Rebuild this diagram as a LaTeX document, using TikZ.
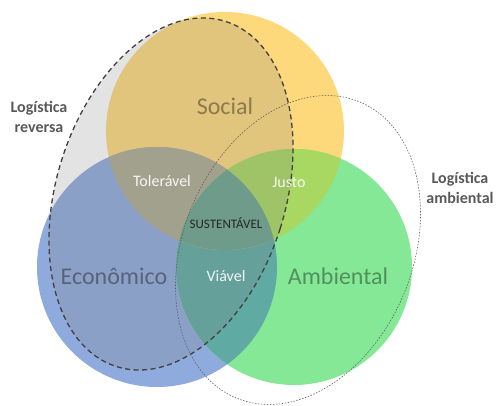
\documentclass[tikz,border=0pt]{standalone}
\usepackage{fontspec}
\setmainfont{Carlito}

\definecolor{socialcol}{HTML}{FDD97C}
\definecolor{econcol}{HTML}{8FAADC}
\definecolor{ambcol}{HTML}{84E896}
\definecolor{tolcol}{HTML}{ACAB92}
\definecolor{justocol}{HTML}{A8D862}
\definecolor{viavcol}{HTML}{5FAAA2}
\definecolor{centcol}{HTML}{6BA58E}
\definecolor{labelgray}{HTML}{595959}

\begin{document}
\begin{tikzpicture}[x=1pt, y=1pt,
        big/.style={font=\fontsize{24}{28}\selectfont, text=black, text opacity=0.38},
        pair/.style={font=\fontsize{16}{19}\selectfont, text=white, text opacity=0.9},
        side/.style={font=\bfseries\fontsize{16}{20}\selectfont, text=labelgray, align=center}]
        \useasboundingbox (0, 0) rectangle (498, 406);

        % circles
        \fill[socialcol] (225, 275) circle (119);
        \fill[econcol] (157, 139) circle (120);
        \fill[ambcol] (294, 139) circle (118);

        % economico/ambiental overlap
        \begin{scope}
            \clip (157, 139) circle (120);
            \fill[viavcol] (294, 139) circle (118);
        \end{scope}
        % overlaps with social
        \begin{scope}
            \clip (225, 275) circle (119);
            \fill[tolcol] (157, 139) circle (120);
            \fill[justocol] (294, 139) circle (118);
            \clip (157, 139) circle (120);
            \fill[centcol] (294, 139) circle (118);
        \end{scope}

        % logistica reversa
        \draw[rotate around={-17.5:(171, 212)}, fill=gray, fill opacity=0.22, draw=black!75, line width=1.3pt, dash pattern=on 5pt off 3.5pt]
            (171, 212) ellipse (114.5 and 181);
        % logistica ambiental
        \draw[rotate around={-22.7:(298, 156)}, draw=black!65, line width=0.55pt, dash pattern=on 1.5pt off 1.5pt]
            (298, 156) ellipse (114.6 and 160.4);

        \node[big] (social) at (225, 300) {Social};
        \node[big] (economico) at (114, 130) {Econômico};
        \node[big] (ambiental) at (338, 130) {Ambiental};

        \node[pair] (toleravel) at (162, 225) {Tolerável};
        \node[pair] (justo) at (289, 224) {Justo};
        \node[pair] (viavel) at (226, 130) {Viável};
        \node[font=\fontsize{13}{15}\selectfont, text=black!85] (sustentavel) at (226, 183) {SUSTENTÁVEL};

        \node[side] (reversa) at (39, 289) {Logística\\reversa};
        \node[side] (ambiente) at (460, 218) {Logística\\ambiental};
    \end{tikzpicture}
\end{document}
